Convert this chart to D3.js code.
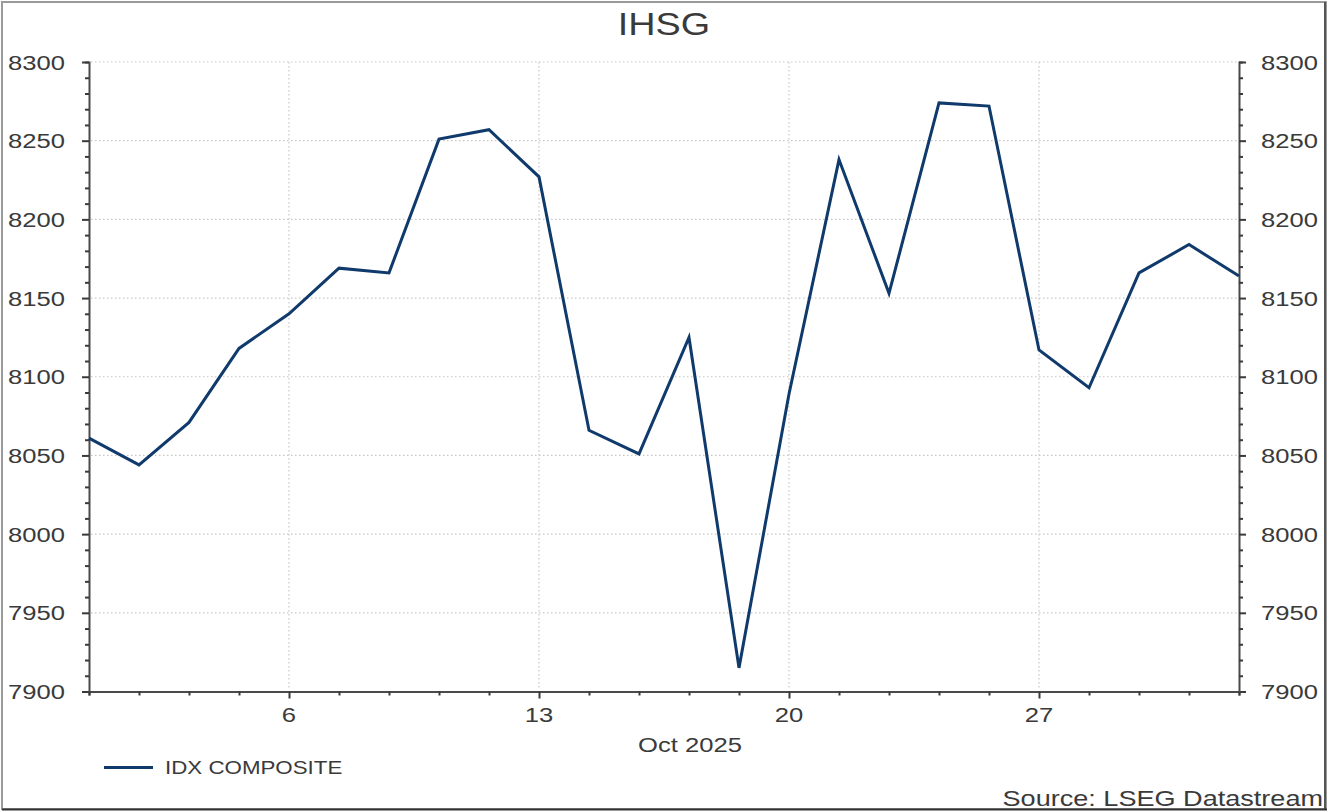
<!DOCTYPE html>
<html>
<head>
<meta charset="utf-8">
<script src="https://cdn.jsdelivr.net/npm/d3@7/dist/d3.min.js"></script>
<style>
  html, body { margin: 0; padding: 0; background: #fff; }
  svg { display: block; }
  text { font-family: "Liberation Sans", Arial, sans-serif; fill: #3a3a3a; }
</style>
</head>
<body>
<svg id="chart" width="1329" height="812"></svg>
<script>
// ---- data ----
const dates = ["2025-09-30","2025-10-01","2025-10-02","2025-10-03","2025-10-06","2025-10-07","2025-10-08","2025-10-09","2025-10-10",
  "2025-10-13","2025-10-14","2025-10-15","2025-10-16","2025-10-17","2025-10-20","2025-10-21","2025-10-22","2025-10-23","2025-10-24",
  "2025-10-27","2025-10-28","2025-10-29","2025-10-30","2025-10-31"];
const values = [8061, 8044, 8071, 8118, 8140, 8169, 8166, 8251, 8257,
  8227, 8066, 8051, 8125, 7915, 8089, 8238, 8153, 8274, 8272,
  8117, 8093, 8166, 8184, 8164];
const yTicks = [7900, 7950, 8000, 8050, 8100, 8150, 8200, 8250, 8300];
const chartTitle = "IHSG";
const seriesName = "IDX COMPOSITE";
const axisTitle = "Oct 2025";
const sourceText = "Source: LSEG Datastream";

// ---- layout ----
const W = 1329, H = 812;
const pL = 89, pR = 1239, pT = 62, pB = 691.5;
const SX = 1.22; // horizontal stretch of the text in the original picture

const svg = d3.select("#chart");
const parse = d3.timeParse("%Y-%m-%d");
const pdates = dates.map(parse);

const x = d3.scaleLinear().domain([0, dates.length - 1]).range([pL, pR]);
const y = d3.scaleLinear().domain([7900, 8300]).range([pB, pT]);

function stext(g, tx, ty, str, size, anchor) {
  return g.append("g").attr("transform", `translate(${tx},${ty}) scale(${SX},1)`)
    .append("text").attr("x", 0).attr("y", 0).attr("font-size", size)
    .attr("text-anchor", anchor).text(str);
}

// outer frame
svg.append("rect").attr("x", 2).attr("y", 2).attr("width", W - 5).attr("height", H - 5)
  .attr("fill", "none").attr("stroke", "#9a9a9a").attr("stroke-width", 2);
svg.append("line").attr("x1", W - 4).attr("x2", W - 4).attr("y1", 2).attr("y2", H - 2)
  .attr("stroke", "#555").attr("stroke-width", 2);
svg.append("line").attr("x1", 2).attr("x2", W - 2).attr("y1", H - 2.5).attr("y2", H - 2.5)
  .attr("stroke", "#333").attr("stroke-width", 2);

// gridlines
const mondayIdx = pdates.map((d, i) => i).filter(i => pdates[i].getDay() === 1);
svg.append("g").selectAll("line").data(yTicks).join("line")
  .attr("x1", pL + 2).attr("x2", pR - 2)
  .attr("y1", d => y(d)).attr("y2", d => y(d))
  .attr("stroke", "#c8c8c8").attr("stroke-width", 1.2).attr("stroke-dasharray", "1.5,2.5");
svg.append("g").selectAll("line").data(mondayIdx).join("line")
  .attr("x1", d => x(d)).attr("x2", d => x(d))
  .attr("y1", pT).attr("y2", pB - 2)
  .attr("stroke", "#c8c8c8").attr("stroke-width", 1.2).attr("stroke-dasharray", "1.5,2.5");

// axes
const yMinor = d3.range(7900, 8301, 10);
function styleAxis(g) {
  g.select(".domain").attr("stroke", "#4a4a4a").attr("stroke-width", 2);
  g.selectAll(".tick line").attr("stroke", "#3a3a3a").attr("stroke-width", 2);
  g.selectAll(".tick text").remove();
}
const yl = svg.append("g").attr("transform", `translate(${pL},0)`)
  .call(d3.axisLeft(y).tickValues(yMinor).tickSizeOuter(0).tickSize(4).tickFormat(""));
styleAxis(yl);
yl.selectAll(".tick line").filter(d => d % 50 === 0).attr("x2", -7);
const yr = svg.append("g").attr("transform", `translate(${pR},0)`)
  .call(d3.axisRight(y).tickValues(yMinor).tickSizeOuter(0).tickSize(4).tickFormat(""));
styleAxis(yr);
yr.selectAll(".tick line").filter(d => d % 50 === 0).attr("x2", 7);

const xa = svg.append("g").attr("transform", `translate(0,${pB})`)
  .call(d3.axisBottom(x).tickValues(d3.range(dates.length)).tickSizeOuter(0).tickSize(4).tickFormat(""));
styleAxis(xa);
xa.selectAll(".tick line").filter(d => pdates[d].getDay() === 1).attr("y2", 7);

// tick labels
yTicks.forEach(v => {
  stext(svg, pL - 24, y(v) + 7.5, String(v), 21, "end");
  stext(svg, pR + 22, y(v) + 7.5, String(v), 21, "start");
});
mondayIdx.forEach(i => {
  stext(svg, x(i), 722, d3.timeFormat("%-d")(pdates[i]), 21, "middle");
});
stext(svg, 690, 752, axisTitle, 21, "middle");

// title
stext(svg, 664, 35, chartTitle, 31, "middle").attr("fill", "#333");

// line
const line = d3.line().x((d, i) => x(i)).y(d => y(d));
svg.append("path").datum(values).attr("d", line)
  .attr("fill", "none").attr("stroke", "#0f3a6b").attr("stroke-width", 3)
  .attr("stroke-linejoin", "miter");

// legend
svg.append("line").attr("x1", 104).attr("x2", 153).attr("y1", 767.5).attr("y2", 767.5)
  .attr("stroke", "#0f3a6b").attr("stroke-width", 3);
stext(svg, 165, 774, seriesName, 18.3, "start");

// source
stext(svg, 1323, 806, sourceText, 22.2, "end");
</script>
</body>
</html>
